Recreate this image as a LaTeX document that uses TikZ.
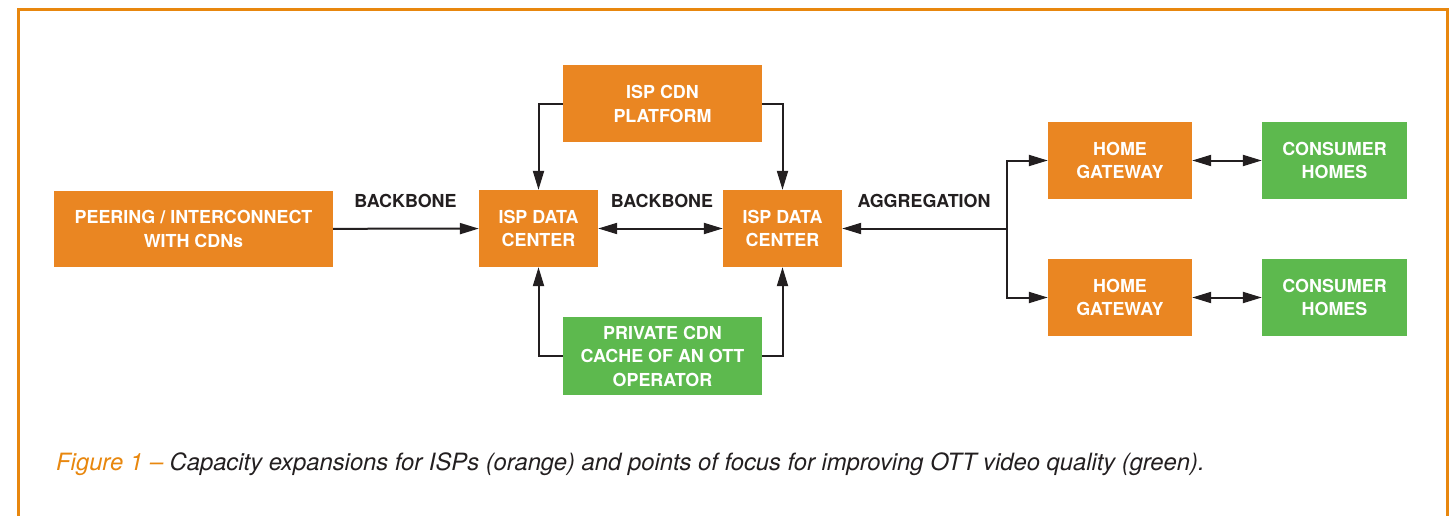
\documentclass[tikz,border=0pt]{standalone}
\usepackage{fontspec}
\setmainfont{TeX Gyre Heros}
\usetikzlibrary{arrows.meta}
\definecolor{orng}{HTML}{EA8622}
\definecolor{grn}{HTML}{5DB94E}
\definecolor{frameor}{HTML}{E8870E}
\definecolor{ink}{HTML}{231F20}
\tikzset{
  box/.style={fill=#1, draw=none, text=white, font=\bfseries\fontsize{17.9}{23.5}\selectfont, align=center, inner sep=0pt},
  lbl/.style={text=ink, font=\bfseries\fontsize{17.9}{20}\selectfont, inner sep=0pt},
  conn/.style={draw=ink, line width=2pt, -{Triangle[length=19pt,width=11pt]}},
  dconn/.style={draw=ink, line width=2pt, {Triangle[length=19pt,width=11pt]}-{Triangle[length=19pt,width=11pt]}},
}
\begin{document}
\begin{tikzpicture}[x=1pt,y=-1pt]
\useasboundingbox (0,0) rectangle (1456,516);
\fill[white] (0,0) rectangle (1456,516);
\draw[frameor, line width=3pt] (18.5,516) -- (18.5,9.5) -- (1447,9.5) -- (1447,516);

\node[box=orng, minimum width=279pt, minimum height=76pt] (peer) at (193.5,229) {PEERING / INTERCONNECT\\WITH CDNs};
\node[box=orng, minimum width=119pt, minimum height=77pt] (dc1) at (538.5,228.5) {ISP DATA\\CENTER};
\node[box=orng, minimum width=119pt, minimum height=77pt] (dc2) at (782.5,228.5) {ISP DATA\\CENTER};
\node[box=orng, minimum width=199pt, minimum height=77pt] (plat) at (662.5,104) {ISP CDN\\PLATFORM};
\node[box=grn, minimum width=199pt, minimum height=78pt] (priv) at (662.5,356) {PRIVATE CDN\\CACHE OF AN OTT\\OPERATOR};
\node[box=orng, minimum width=144pt, minimum height=77pt] (hg1) at (1120,160.5) {HOME\\GATEWAY};
\node[box=orng, minimum width=144pt, minimum height=77pt] (hg2) at (1120,297.5) {HOME\\GATEWAY};
\node[box=grn, minimum width=145pt, minimum height=77pt] (ch1) at (1334.5,160.5) {CONSUMER\\HOMES};
\node[box=grn, minimum width=145pt, minimum height=77pt] (ch2) at (1334.5,297.5) {CONSUMER\\HOMES};

\node[lbl] (l1) at (405.5,201) {BACKBONE};
\node[lbl] (l2) at (662,201) {BACKBONE};
\node[lbl] (l3) at (924,201) {AGGREGATION};

\draw[conn] (peer) -- (dc1);
\draw[dconn] (dc1) -- (dc2);
\draw[conn] (plat.west) -| (dc1.north);
\draw[conn] (plat.east) -| (dc2.north);
\draw[conn] (priv.west) -| (dc1.south);
\draw[conn] (priv.east) -| (dc2.south);
\coordinate (j) at (1007,228.5);
\draw[conn] (j) -- (dc2.east);
\draw[conn] (j) |- (hg1.west);
\draw[conn] (j) |- (hg2.west);
\draw[dconn] (hg1) -- (ch1);
\draw[dconn] (hg2) -- (ch2);

\node[anchor=base west, inner sep=0pt, font=\itshape\fontsize{23.8}{26}\selectfont, text=ink] (cap) at (56,470) {\textcolor{frameor}{Figure 1 –} Capacity expansions for ISPs (orange) and points of focus for improving OTT video quality (green).};
\end{tikzpicture}
\end{document}
